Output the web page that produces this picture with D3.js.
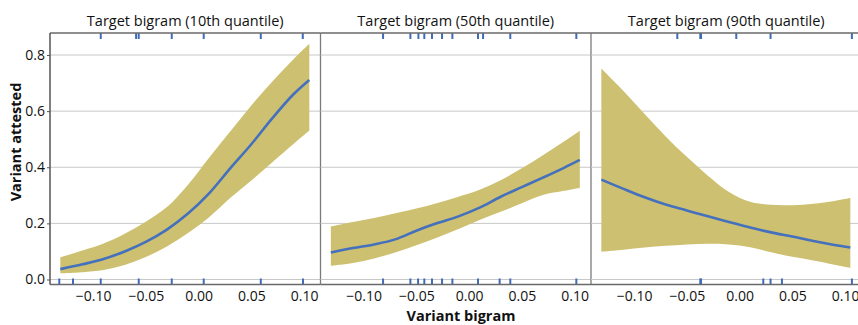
<!DOCTYPE html>
<html>
<head>
<meta charset="utf-8">
<script src="https://cdn.jsdelivr.net/npm/d3@7"></script>
<style>
  body { margin: 0; background: #fff; }
  text { font-family: "Open Sans", "Noto Sans", sans-serif; fill: #111; }
</style>
</head>
<body>
<div id="chart"></div>
<script>
// shared x grid for the smooth fits
var xGrid = [-0.131, -0.11, -0.09, -0.07, -0.05, -0.03, -0.01, 0.01, 0.03, 0.05, 0.07, 0.09, 0.105];

var panelTitles = ["Target bigram (10th quantile)", "Target bigram (50th quantile)", "Target bigram (90th quantile)"];

var fit10 = [0.037, 0.054, 0.073, 0.100, 0.134, 0.178, 0.235, 0.307, 0.396, 0.482, 0.575, 0.660, 0.711];
var lo10  = [0.022, 0.026, 0.034, 0.052, 0.080, 0.118, 0.166, 0.222, 0.290, 0.353, 0.418, 0.483, 0.531];
var hi10  = [0.079, 0.103, 0.128, 0.163, 0.206, 0.258, 0.338, 0.434, 0.527, 0.620, 0.706, 0.785, 0.840];

var fit50 = [0.096, 0.112, 0.125, 0.143, 0.174, 0.201, 0.225, 0.256, 0.295, 0.329, 0.363, 0.398, 0.426];
var lo50  = [0.049, 0.059, 0.075, 0.096, 0.122, 0.150, 0.180, 0.212, 0.241, 0.272, 0.301, 0.316, 0.326];
var hi50  = [0.189, 0.205, 0.219, 0.236, 0.253, 0.273, 0.295, 0.320, 0.354, 0.396, 0.443, 0.492, 0.530];

var fit90 = [0.356, 0.323, 0.293, 0.267, 0.246, 0.225, 0.205, 0.185, 0.168, 0.153, 0.137, 0.123, 0.114];
var lo90  = [0.099, 0.106, 0.114, 0.120, 0.125, 0.127, 0.125, 0.115, 0.097, 0.081, 0.068, 0.053, 0.042];
var hi90  = [0.752, 0.672, 0.590, 0.510, 0.437, 0.370, 0.312, 0.277, 0.266, 0.265, 0.270, 0.280, 0.290];

// rug: observed x values with y = 1 (top) and y = 0 (bottom)
var rugTop10 = [-0.0927, -0.0592, -0.0567, -0.0254, 0.0049, 0.059, 0.0988];
var rugBot10 = [-0.132, -0.119, -0.0927, -0.0567, -0.0254, 0.0049, 0.059, 0.099];
var rugTop50 = [-0.0815, -0.0556, -0.048, -0.0424, -0.0351, -0.0256, -0.0158, 0.0085, 0.0133, 0.0391, 0.1017];
var rugBot50 = [-0.0815, -0.0556, -0.0483, -0.0424, -0.0351, -0.0256, -0.0158, 0.0085, 0.029, 0.0391, 0.1017];
var rugTop90 = [-0.059, -0.0372, -0.0365, -0.0031, 0.0294, 0.1065];
var rugBot90 = [-0.0372, -0.0365, 0.0225, 0.0294, 0.0402, 0.1065];

var xTicks = [-0.10, -0.05, 0.00, 0.05, 0.10];
var yTicks = [0.0, 0.2, 0.4, 0.6, 0.8];

var panels = [
  {title: panelTitles[0], fit: fit10, lo: lo10, hi: hi10, top: rugTop10, bot: rugBot10},
  {title: panelTitles[1], fit: fit50, lo: lo50, hi: hi50, top: rugTop50, bot: rugBot50},
  {title: panelTitles[2], fit: fit90, lo: lo90, hi: hi90, top: rugTop90, bot: rugBot90}
];

var w = 858, h = 325;
var left = 50, pw = 270.5, plotTop = 33, plotBot = 284.5;

var svg = d3.select("#chart").append("svg")
  .attr("width", w)
  .attr("height", h);

var x = d3.scaleLinear().domain([-0.1408, 0.1156]).range([0, pw]);
var y = d3.scaleLinear().domain([0, 0.8]).range([279.5, 55]);

var area = d3.area()
  .x(function(d){ return x(d.x) })
  .y0(function(d){ return y(d.lo) })
  .y1(function(d){ return y(d.hi) })
  .curve(d3.curveCatmullRom.alpha(0.5));

var line = d3.line()
  .x(function(d){ return x(d.x) })
  .y(function(d){ return y(d.fit) })
  .curve(d3.curveCatmullRom.alpha(0.5));

panels.forEach(function(p, i){
  var g = svg.append("g").attr("transform", "translate(" + (left + i * pw) + ",0)");
  var pts = xGrid.map(function(v, k){ return {x: v, fit: p.fit[k], lo: p.lo[k], hi: p.hi[k]} });

  // grid
  g.selectAll(".grid")
    .data(yTicks)
    .enter().append("line")
      .attr("x1", 0).attr("x2", pw)
      .attr("y1", function(d){ return y(d) })
      .attr("y2", function(d){ return y(d) })
      .attr("stroke", "#c8c8c8")
      .attr("stroke-width", 1);

  g.append("path")
    .datum(pts)
    .attr("d", area)
    .attr("fill", "#cdc070");

  g.append("path")
    .datum(pts)
    .attr("d", line)
    .attr("fill", "none")
    .attr("stroke", "#4470bd")
    .attr("stroke-width", 2.6);

  // rugs
  g.selectAll(".rt")
    .data(p.top)
    .enter().append("line")
      .attr("x1", function(d){ return x(d) })
      .attr("x2", function(d){ return x(d) })
      .attr("y1", plotTop).attr("y2", plotTop + 6)
      .attr("stroke", "#3f6cb8")
      .attr("stroke-width", 2);
  g.selectAll(".rb")
    .data(p.bot)
    .enter().append("line")
      .attr("x1", function(d){ return x(d) })
      .attr("x2", function(d){ return x(d) })
      .attr("y1", plotBot - 6).attr("y2", plotBot)
      .attr("stroke", "#3f6cb8")
      .attr("stroke-width", 2);

  // frame
  g.append("line").attr("x1", 0).attr("x2", pw).attr("y1", plotTop).attr("y2", plotTop)
    .attr("stroke", "#6a6a6a").attr("stroke-width", 1.3);
  g.append("line").attr("x1", 0).attr("x2", pw).attr("y1", plotBot).attr("y2", plotBot)
    .attr("stroke", "#6a6a6a").attr("stroke-width", 1.6);
  g.append("line").attr("x1", pw).attr("x2", pw).attr("y1", plotTop).attr("y2", plotBot)
    .attr("stroke", "#7a7a7a").attr("stroke-width", 1.3);

  // x axis
  var ax = g.append("g")
    .attr("transform", "translate(0," + plotBot + ")")
    .call(d3.axisBottom(x).tickValues(xTicks).tickSize(0).tickPadding(7).tickFormat(d3.format(".2f")));
  ax.select(".domain").remove();
  ax.selectAll("text").style("font-size", "14px").style("font-family", "'Open Sans', sans-serif").attr("fill", "#111");

  g.append("text")
    .attr("x", pw / 2)
    .attr("y", 26)
    .attr("text-anchor", "middle")
    .style("font-size", "14.5px")
    .text(p.title);
});

// left axis
svg.append("line").attr("x1", left).attr("x2", left).attr("y1", plotTop).attr("y2", plotBot)
  .attr("stroke", "#555").attr("stroke-width", 1.5);

var ay = svg.append("g")
  .attr("transform", "translate(" + left + ",0)")
  .call(d3.axisLeft(y).tickValues(yTicks).tickSize(3).tickPadding(2).tickFormat(d3.format(".1f")));
ay.select(".domain").remove();
ay.selectAll("line").attr("stroke", "#555");
ay.selectAll("text").style("font-size", "14px").style("font-family", "'Open Sans', sans-serif").attr("fill", "#111");

svg.append("text")
  .attr("x", 461)
  .attr("y", 321)
  .attr("text-anchor", "middle")
  .style("font-size", "14.5px")
  .style("font-weight", "bold")
  .text("Variant bigram");

svg.append("text")
  .attr("transform", "translate(21,142) rotate(-90)")
  .attr("text-anchor", "middle")
  .style("font-size", "14.5px")
  .style("font-weight", "bold")
  .text("Variant attested");
</script>
</body>
</html>
